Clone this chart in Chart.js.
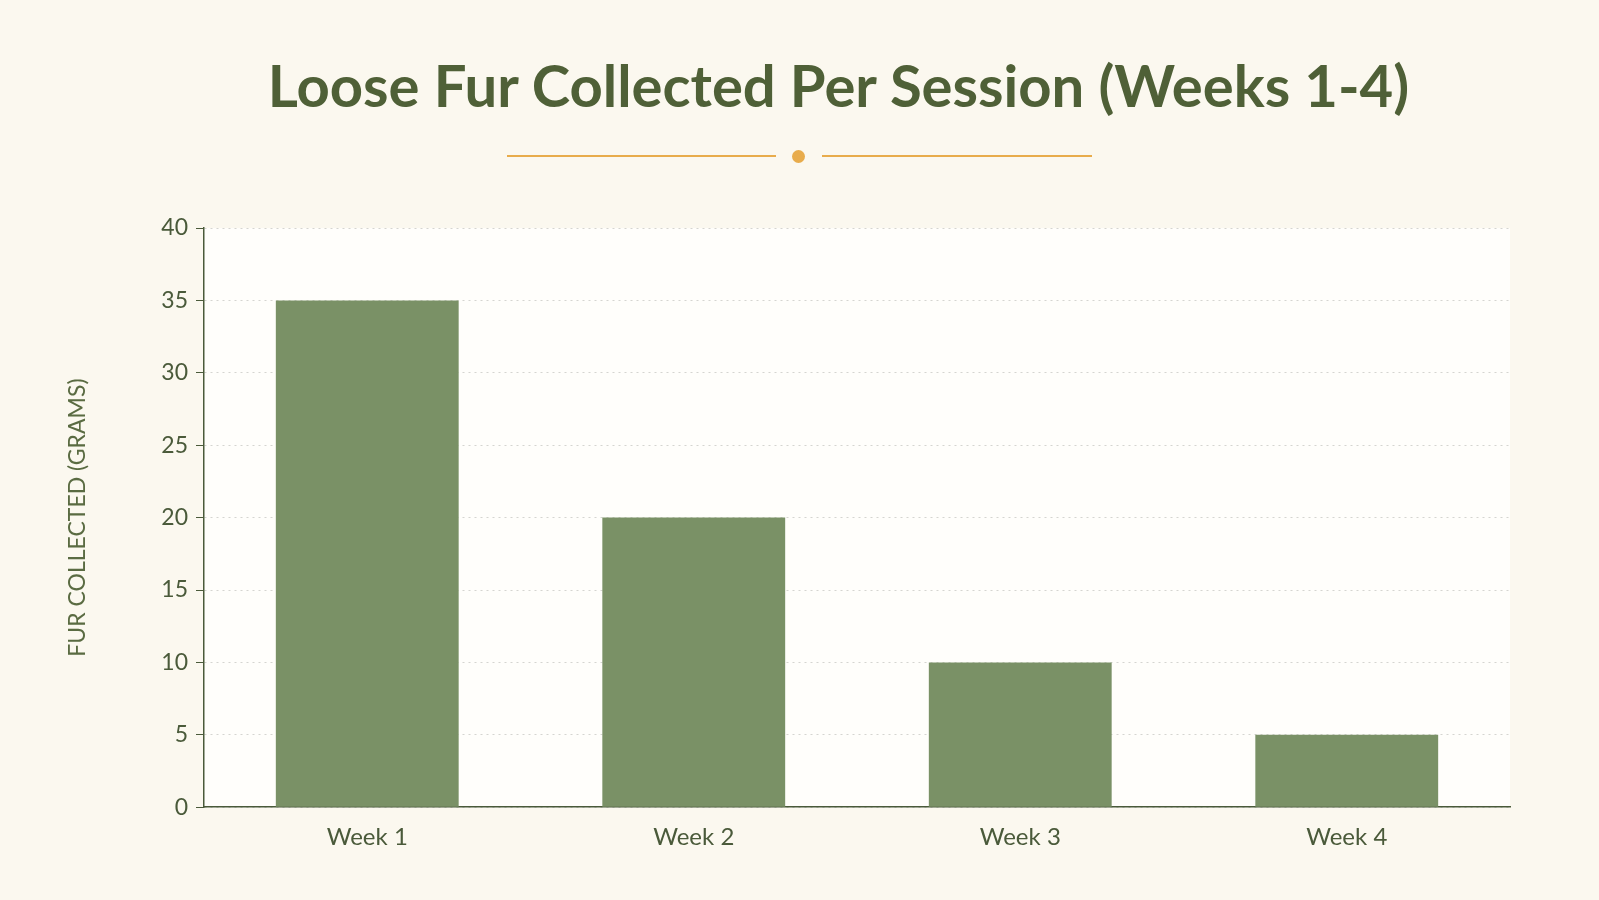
<!DOCTYPE html>
<html>
<head>
<meta charset="utf-8">
<script src="https://cdn.jsdelivr.net/npm/chart.js@4"></script>
<style>
  body { margin: 0; background: #fbf8ef; width: 1599px; height: 900px; overflow: hidden; font-family: Lato, sans-serif; }
  #title { position: absolute; top: 50px; left: 0; width: 1677px; text-align: center; font-size: 58px; font-weight: 700; color: #4f6037; }
  .rule { position: absolute; top: 155px; height: 2px; background: #e8ac4c; }
  .dot { position: absolute; top: 150px; left: 792px; width: 13px; height: 13px; border-radius: 50%; background: #e8ac4c; }
  #furChart { position: absolute; left: 0; top: 0; }
</style>
</head>
<body>
<div id="title">Loose Fur Collected Per Session (Weeks 1-4)</div>
<div class="rule" style="left:507px;width:269px"></div>
<div class="dot"></div>
<div class="rule" style="left:822px;width:270px"></div>
<canvas id="furChart" width="1599" height="900"></canvas>
<script>
// Data for chart
const weeks = ['Week 1', 'Week 2', 'Week 3', 'Week 4'];
const furGrams = [35, 20, 10, 5];
const yTicks = [0, 5, 10, 15, 20, 25, 30, 35, 40];

const plotBg = {
    id: 'plotBg',
    beforeDraw(chart) {
        const { ctx, chartArea: a } = chart;
        ctx.save();
        ctx.fillStyle = '#fffefb';
        ctx.fillRect(a.left, a.top, a.right - a.left, a.bottom - a.top);
        ctx.restore();
    }
};

const ctx = document.getElementById('furChart').getContext('2d');
new Chart(ctx, {
    type: 'bar',
    data: {
        labels: weeks,
        datasets: [{
            data: furGrams,
            backgroundColor: '#7a9166',
            barPercentage: 0.56,
            categoryPercentage: 1
        }]
    },
    options: {
        responsive: false,
        animation: false,
        devicePixelRatio: 1,
        layout: { padding: { left: 60, right: 89, top: 228, bottom: 40 } },
        plugins: { legend: { display: false }, tooltip: { enabled: false } },
        scales: {
            x: {
                grid: { display: false },
                border: { color: '#4a5a3a', width: 1.5 },
                ticks: { color: '#4a5a3a', font: { family: 'Lato', size: 24 }, padding: 8 }
            },
            y: {
                min: 0, max: 40,
                afterFit(scale) { scale.width = 144; },
                afterBuildTicks(scale) { scale.ticks = yTicks.map(v => ({ value: v })); },
                grid: { color: '#d5d5d0', tickLength: 8, tickColor: '#4a5a3a', drawTicks: true },
                border: { color: '#4a5a3a', width: 1.5, dash: [2, 4] },
                ticks: { color: '#4a5a3a', font: { family: 'Lato', size: 23 }, padding: 8 },
                title: { display: true, text: 'FUR COLLECTED (GRAMS)', color: '#5a6b42', font: { family: 'Lato', size: 23 }, padding: { bottom: 40 } }
            }
        }
    },
    plugins: [plotBg]
});
</script>
</body>
</html>
